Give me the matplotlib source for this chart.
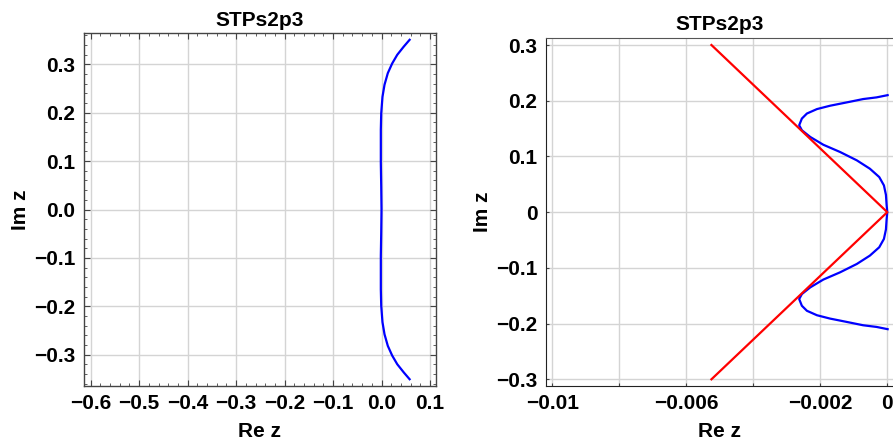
import matplotlib
matplotlib.use("Agg")
import matplotlib.pyplot as plt
from matplotlib.ticker import MultipleLocator

plt.rcParams['font.family'] = ['Liberation Sans', 'DejaVu Sans']
plt.rcParams['font.weight'] = 'bold'
plt.rcParams['axes.unicode_minus'] = True

title = "STPs2p3"

# left panel: stability boundary (top to bottom)
left_re = [0.0580, 0.0460, 0.0325, 0.0220, 0.0130, 0.0062, 0.0020, -0.0006, -0.0014,
           -0.0014, -0.0006, 0.0000,
           -0.0006, -0.0014, -0.0014, -0.0006, 0.0020, 0.0062, 0.0130, 0.0220,
           0.0325, 0.0460, 0.0580]
left_im = [0.351, 0.337, 0.320, 0.302, 0.282, 0.258, 0.233, 0.199, 0.165,
           0.096, 0.048, 0.000,
           -0.048, -0.096, -0.165, -0.199, -0.233, -0.258, -0.282, -0.302,
           -0.320, -0.337, -0.351]

# right panel: zoom near the origin (top to bottom)
right_re = [0.00001, -0.00032, -0.00072, -0.00121, -0.00171, -0.00210, -0.00240, -0.00255,
            -0.00263, -0.00255, -0.00230, -0.00191, -0.00141, -0.00091, -0.00052,
            -0.00024, -0.00010, -0.00004, -0.00002, 0.00000,
            -0.00002, -0.00004, -0.00010, -0.00024, -0.00052, -0.00091, -0.00141,
            -0.00191, -0.00230, -0.00255, -0.00263, -0.00255, -0.00240, -0.00210,
            -0.00171, -0.00121, -0.00072, -0.00032, 0.00001]
right_im = [0.210, 0.206, 0.203, 0.197, 0.191, 0.185, 0.177, 0.168,
            0.156, 0.147, 0.135, 0.121, 0.108, 0.093, 0.078,
            0.063, 0.048, 0.031, 0.013, 0.000,
            -0.013, -0.031, -0.048, -0.063, -0.078, -0.093, -0.108,
            -0.121, -0.135, -0.147, -0.156, -0.168, -0.177, -0.185,
            -0.191, -0.197, -0.203, -0.206, -0.210]

# red wedge lines
wedge_re = [-0.00525, 0.0, -0.00525]
wedge_im = [0.3, 0.0, -0.3]

right_xticks = [-0.01, -0.008, -0.006, -0.004, -0.002, 0.0]
right_xlabels = ["\u22120.01", "", "\u22120.006", "", "\u22120.002", "0"]
right_yticks = [0.3, 0.2, 0.1, 0.0, -0.1, -0.2, -0.3]
right_ylabels = ["0.3", "0.2", "0.1", "0", "\u22120.1", "\u22120.2", "\u22120.3"]


def fmt1(v, p):
    if abs(v) < 1e-9:
        return "0.0"
    return f"{v:.1f}".replace("-", "\u2212")


fig = plt.figure(figsize=(8.93, 4.42), dpi=100)
ax1 = fig.add_axes([0.094, 0.1267, 0.394, 0.7986])
ax2 = fig.add_axes([0.611, 0.1267, 0.3886, 0.7866])

grid_kw = dict(color='#d4d4d4', linewidth=1.0)
fs = 15

# left
ax1.plot(left_re, left_im, color='#0000ff', linewidth=1.6)
ax1.set_xlim(-0.614, 0.112)
ax1.set_ylim(-0.365, 0.365)
ax1.xaxis.set_major_locator(MultipleLocator(0.1))
ax1.xaxis.set_minor_locator(MultipleLocator(0.02))
ax1.yaxis.set_major_locator(MultipleLocator(0.1))
ax1.yaxis.set_minor_locator(MultipleLocator(0.02))
ax1.xaxis.set_major_formatter(plt.FuncFormatter(fmt1))
ax1.yaxis.set_major_formatter(plt.FuncFormatter(fmt1))
ax1.grid(True, which='major', **grid_kw)
ax1.tick_params(which='both', direction='in', top=True, right=True, labelsize=fs,
                colors='#444444', labelcolor='black')
ax1.tick_params(which='major', length=4, pad=6)
ax1.tick_params(which='minor', length=2)
for lab in ax1.get_xticklabels() + ax1.get_yticklabels():
    lab.set_fontweight('bold')
for s in ax1.spines.values():
    s.set_color('#444444')
    s.set_linewidth(1.0)
ax1.set_title(title, fontsize=fs, fontweight='bold', pad=5)
ax1.set_xlabel("Re z", fontsize=fs, fontweight='bold', labelpad=6)
ax1.set_ylabel("Im z", fontsize=fs, fontweight='bold', labelpad=3)

# right
ax2.plot(right_re, right_im, color='#0000ff', linewidth=1.6)
ax2.plot(wedge_re, wedge_im, color='#ff0000', linewidth=1.6)
ax2.set_xlim(-0.0102, 0.00016)
ax2.set_ylim(-0.312, 0.312)
ax2.set_xticks(right_xticks)
ax2.set_xticklabels(right_xlabels)
ax2.set_yticks(right_yticks)
ax2.set_yticklabels(right_ylabels)
ax2.grid(True, **grid_kw)
ax2.tick_params(direction='in', length=2.5, labelsize=fs, colors='#444444',
                labelcolor='black', pad=6)
for lab in ax2.get_xticklabels() + ax2.get_yticklabels():
    lab.set_fontweight('bold')
ax2.spines['right'].set_visible(False)
ax2.spines['top'].set_color('#555555')
ax2.spines['left'].set_color('#222222')
ax2.spines['bottom'].set_color('#222222')
ax2.set_title(title, fontsize=fs, fontweight='bold', pad=6)
ax2.set_xlabel("Re z", fontsize=fs, fontweight='bold', labelpad=6)
ax2.set_ylabel("Im z", fontsize=fs, fontweight='bold', labelpad=3)

fig.savefig("out.png", dpi=100)
